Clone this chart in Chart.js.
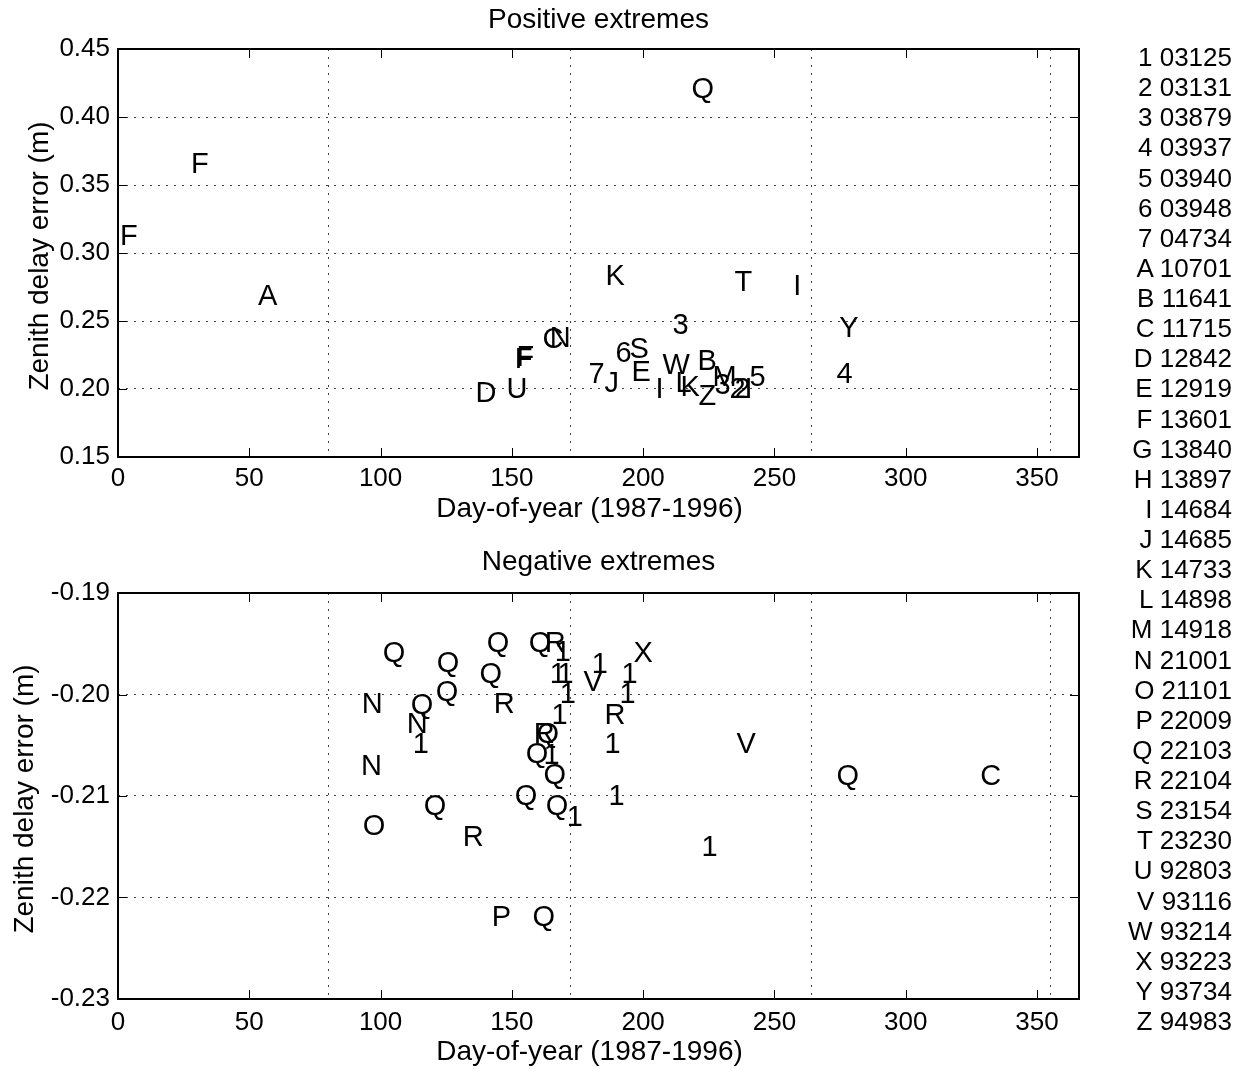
<!DOCTYPE html>
<html>
<head>
<meta charset="utf-8">
<script src="https://cdn.jsdelivr.net/npm/chart.js@4.4.1/dist/chart.umd.min.js"></script>
<style>
  body { margin: 0; background: #fff; width: 1236px; height: 1069px; overflow: hidden; position: relative;
         font-family: 'Liberation Sans', Arial, Helvetica, sans-serif; }
  canvas { position: absolute; left: 0; }
  #legend { position: absolute; right: 4px; top: 42px; text-align: right; font-size: 26px; line-height: 30.125px; color: #000; }
</style>
</head>
<body>
<canvas id="pos" width="1236" height="535" style="top:0"></canvas>
<canvas id="neg" width="1236" height="534" style="top:535px"></canvas>
<div id="legend"></div>
<script>
// ---- data ----
const xTicks     = [0, 50, 100, 150, 200, 250, 300, 350];
const seasonDays = [80, 172, 264, 355];
const posTicks   = [0.15, 0.20, 0.25, 0.30, 0.35, 0.40, 0.45];
const negTicks   = [-0.23, -0.22, -0.21, -0.20, -0.19];

// positive extremes: station key, day of year, error (m)
const posLabels = ['Q', 'F', 'F', 'A', 'K', 'T', 'I', 'Y', '3', '4', 'N', 'C', 'F', 'F', 'D', 'U',
                   '7', 'J', '6', 'S', 'E', 'I', 'W', 'L', 'K', 'B', 'Z', 'M', '3', '2', '2', 'I', '5'];
const posDays   = [218.4, 27.8, 0.8, 53.3, 185.7, 234.8, 257.2, 274.7, 211.2, 273.6, 164.4, 161.7, 151.1, 151.8, 136.2, 148.0,
                   179.2, 185.3, 189.5, 194.8, 195.6, 204.7, 207.4, 212.3, 214.2, 220.7, 221.1, 226.4, 227.2, 232.9, 234.8, 238.6, 240.5];
const posErrors = [0.420, 0.365, 0.312, 0.268, 0.282, 0.278, 0.275, 0.244, 0.246, 0.210, 0.237, 0.236, 0.221, 0.223, 0.196, 0.199,
                   0.210, 0.204, 0.226, 0.229, 0.212, 0.199, 0.217, 0.204, 0.201, 0.220, 0.194, 0.208, 0.202, 0.199, 0.199, 0.199, 0.208];

// negative extremes
const negLabels = ['Q', 'Q', 'Q', 'Q', 'Q', 'R', '1', '1', '1', '1', '1', 'V', '1', 'X', '1', '1',
                   'R', '1', '1', 'N', 'Q', 'Q', 'R', 'N', '1', 'N', 'R', 'Q', 'Q', '1', 'Q', 'Q',
                   'Q', '1', 'Q', 'O', 'R', '1', 'V', 'Q', 'C', 'P', 'Q'];
const negDays   = [100.8, 121.4, 137.7, 140.4, 156.4, 162.5, 166.3, 164.4, 167.4, 168.2, 165.1, 177.3, 180.4, 196.3, 191.8, 191.0,
                   185.3, 185.3, 186.8, 92.8, 111.5, 121.0, 143.1, 110.0, 112.3, 92.5, 158.3, 159.4, 155.3, 162.1, 162.1, 151.1,
                   162.9, 170.9, 116.4, 93.2, 131.3, 222.2, 235.6, 273.6, 328.4, 142.3, 157.9];
const negErrors = [-0.1960, -0.1970, -0.1981, -0.1950, -0.1950, -0.1950, -0.1959, -0.1981, -0.1981, -0.2000, -0.2021, -0.1989, -0.1971, -0.1960, -0.1981, -0.2000,
                   -0.2021, -0.2050, -0.2101, -0.2010, -0.2011, -0.1999, -0.2010, -0.2030, -0.2050, -0.2071, -0.2040, -0.2040, -0.2060, -0.2061, -0.2080, -0.2101,
                   -0.2111, -0.2122, -0.2111, -0.2131, -0.2141, -0.2151, -0.2050, -0.2081, -0.2081, -0.2220, -0.2220];

// station legend
const stationKeys = ['1', '2', '3', '4', '5', '6', '7', 'A', 'B', 'C', 'D', 'E', 'F', 'G', 'H', 'I', 'J',
                     'K', 'L', 'M', 'N', 'O', 'P', 'Q', 'R', 'S', 'T', 'U', 'V', 'W', 'X', 'Y', 'Z'];
const stationIds  = ['03125', '03131', '03879', '03937', '03940', '03948', '04734', '10701', '11641', '11715', '12842',
                     '12919', '13601', '13840', '13897', '14684', '14685', '14733', '14898', '14918', '21001', '21101',
                     '22009', '22103', '22104', '23154', '23230', '92803', '93116', '93214', '93223', '93734', '94983'];

const FONT = "'Liberation Sans', Arial, Helvetica, sans-serif";

document.getElementById('legend').innerHTML =
  stationKeys.map((k, i) => `<div>${k} ${stationIds[i]}</div>`).join('');

// draws the frame, inward ticks, season lines, titles and the letter markers
const figurePlugin = {
  id: 'figure',
  beforeDatasetsDraw(chart, args, opts) {
    const { ctx, chartArea: a, scales: { x } } = chart;
    ctx.save();
    ctx.strokeStyle = '#444';
    ctx.lineWidth = 1;
    ctx.setLineDash([2, 6]);
    seasonDays.forEach(d => {
      const px = Math.round(x.getPixelForValue(d)) + 0.5;
      ctx.beginPath(); ctx.moveTo(px, a.top); ctx.lineTo(px, a.bottom); ctx.stroke();
    });
    ctx.restore();
  },
  afterDatasetsDraw(chart, args, opts) {
    const { ctx, chartArea: a, scales: { x, y } } = chart;
    ctx.save();
    // frame
    ctx.strokeStyle = '#000';
    ctx.lineWidth = 2;
    ctx.strokeRect(a.left, a.top, a.right - a.left, a.bottom - a.top);
    // inward ticks on all four sides
    ctx.lineWidth = 1;
    ctx.beginPath();
    x.ticks.forEach(t => {
      const px = Math.round(x.getPixelForValue(t.value)) + 0.5;
      ctx.moveTo(px, a.bottom); ctx.lineTo(px, a.bottom - 9);
      ctx.moveTo(px, a.top);    ctx.lineTo(px, a.top + 9);
    });
    y.ticks.forEach(t => {
      const py = Math.round(y.getPixelForValue(t.value)) + 0.5;
      ctx.moveTo(a.left, py);  ctx.lineTo(a.left + 9, py);
      ctx.moveTo(a.right, py); ctx.lineTo(a.right - 9, py);
    });
    ctx.stroke();

    // letter markers at the data points
    ctx.fillStyle = '#000';
    ctx.font = `29px ${FONT}`;
    ctx.textAlign = 'left';
    ctx.textBaseline = 'middle';
    const meta = chart.getDatasetMeta(0);
    meta.data.forEach((pt, i) => ctx.fillText(opts.labels[i], pt.x, pt.y));

    // titles
    ctx.font = `28px ${FONT}`;
    ctx.textAlign = 'center';
    const cx = (a.left + a.right) / 2;
    ctx.fillText(opts.title, cx, opts.titleY);
    ctx.fillText('Day-of-year (1987-1996)', cx - 9, opts.xTitleY);
    ctx.translate(opts.yTitleX, (a.top + a.bottom) / 2 + 3);
    ctx.rotate(-Math.PI / 2);
    ctx.fillText('Zenith delay error (m)', 0, 0);
    ctx.restore();
  }
};

function makePanel(id, labels, days, errors, yTicks, cfg) {
  return new Chart(document.getElementById(id), {
    type: 'scatter',
    data: {
      datasets: [{
        data: days.map((d, i) => ({ x: d, y: errors[i] })),
        pointRadius: 0,
        pointHoverRadius: 0
      }]
    },
    options: {
      responsive: false,
      animation: false,
      events: [],
      layout: { padding: { top: cfg.top, right: 157, left: 0, bottom: 0 } },
      scales: {
        x: {
          type: 'linear', min: 0, max: 366,
          afterBuildTicks: s => { s.ticks = xTicks.map(v => ({ value: v })); },
          afterFit: s => { s.height = cfg.xHeight; },
          grid: { display: false },
          border: { display: false },
          ticks: { color: '#000', font: { family: FONT, size: 26 }, padding: cfg.xPad, maxRotation: 0, autoSkip: false }
        },
        y: {
          type: 'linear', min: yTicks[0], max: yTicks[yTicks.length - 1],
          afterBuildTicks: s => { s.ticks = yTicks.map(v => ({ value: v })); },
          afterFit: s => { s.width = 118; },
          grid: { color: '#444', lineWidth: 1, drawTicks: false },
          border: { display: false, dash: [2, 6] },
          ticks: { color: '#000', font: { family: FONT, size: 26 }, padding: 8, callback: v => v.toFixed(2) }
        }
      },
      plugins: {
        legend: { display: false },
        tooltip: { enabled: false },
        figure: { labels, title: cfg.title, titleY: cfg.titleY, xTitleY: cfg.xTitleY, yTitleX: cfg.yTitleX }
      }
    },
    plugins: [figurePlugin]
  });
}

makePanel('pos', posLabels, posDays, posErrors, posTicks,
  { top: 49, xHeight: 78, xPad: -2, title: 'Positive extremes', titleY: 20, xTitleY: 509, yTitleX: 40 });
makePanel('neg', negLabels, negDays, negErrors, negTicks,
  { top: 58, xHeight: 70, xPad: 0, title: 'Negative extremes', titleY: 27, xTitleY: 517, yTitleX: 25 });
</script>
</body>
</html>
